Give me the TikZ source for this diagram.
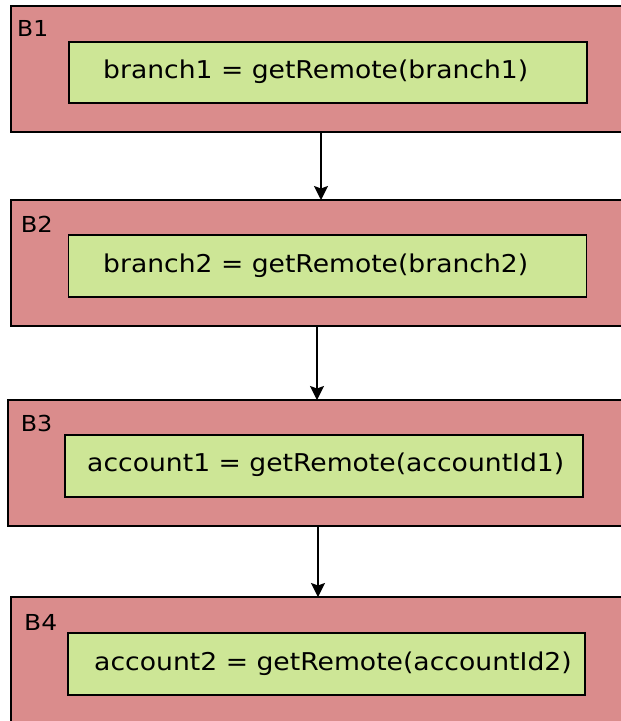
\documentclass[tikz,border=0pt]{standalone}
\usepackage{fontspec}
\usepackage{graphicx}
\setmainfont{DejaVu Sans}
\usetikzlibrary{arrows.meta}
\definecolor{outerfill}{HTML}{DA8C8C}
\definecolor{innerfill}{HTML}{CDE696}
\newcommand\fitwidth[2]{\resizebox{#1}{\height}{#2}}
\tikzset{
  outerbox/.style={draw=black, fill=outerfill, line width=1.6pt, rectangle, inner sep=0pt, outer sep=0pt},
  innerbox/.style={draw=black, fill=innerfill, line width=1.8pt, rectangle, inner sep=0pt, outer sep=0pt},
  code/.style={anchor=base west, inner sep=0pt, font=\fontsize{24.5}{29}\selectfont},
  blabel/.style={anchor=base west, inner sep=0pt, font=\fontsize{22}{26}\selectfont},
  arr/.style={line width=1.8pt, -{Stealth[length=14pt,width=14pt,inset=2.5pt]}}
}
\begin{document}
\begin{tikzpicture}[x=1pt,y=-1pt]
\clip (0,0) rectangle (621,721);
\fill[white] (0,0) rectangle (621,721);
% block B1
\node[outerbox, minimum width=629pt, minimum height=126pt] (b1) at (325.5,69) {};
\node[innerbox, minimum width=518pt, minimum height=61pt] (i1) at (328,72.5) {};
\node[blabel] (l1) at (17,36) {\fitwidth{31pt}{B1}};
\node[code] (t1) at (103,78) {\fitwidth{425pt}{branch1 = getRemote(branch1)}};
% block B2
\node[outerbox, minimum width=629pt, minimum height=126pt] (b2) at (325.5,263) {};
\node[innerbox, minimum width=518pt, minimum height=62pt] (i2) at (327.5,266) {};
\node[blabel] (l2) at (20.6,232) {\fitwidth{32pt}{B2}};
\node[code] (t2) at (103,272) {\fitwidth{425pt}{branch2 = getRemote(branch2)}};
% block B3
\node[outerbox, minimum width=632pt, minimum height=126pt] (b3) at (324,463) {};
\node[innerbox, minimum width=518pt, minimum height=62pt] (i3) at (324,466) {};
\node[blabel] (l3) at (20.6,431) {\fitwidth{31.5pt}{B3}};
\node[code] (t3) at (87,471.5) {\fitwidth{477pt}{account1 = getRemote(accountId1)}};
% block B4
\node[outerbox, minimum width=629pt, minimum height=163pt] (b4) at (325.5,678.5) {};
\node[innerbox, minimum width=517pt, minimum height=62pt] (i4) at (326.5,664) {};
\node[blabel] (l4) at (24,630) {\fitwidth{33pt}{B4}};
\node[code] (t4) at (94,670.5) {\fitwidth{477.5pt}{account2 = getRemote(accountId2)}};
% connectors
\coordinate (c1) at (321,0);
\coordinate (c2) at (317,0);
\coordinate (c3) at (318,0);
\draw[arr] (b1.south -| c1) -- (b2.north -| c1);
\draw[arr] (b2.south -| c2) -- (b3.north -| c2);
\draw[arr] (b3.south -| c3) -- (b4.north -| c3);
\end{tikzpicture}
\end{document}
